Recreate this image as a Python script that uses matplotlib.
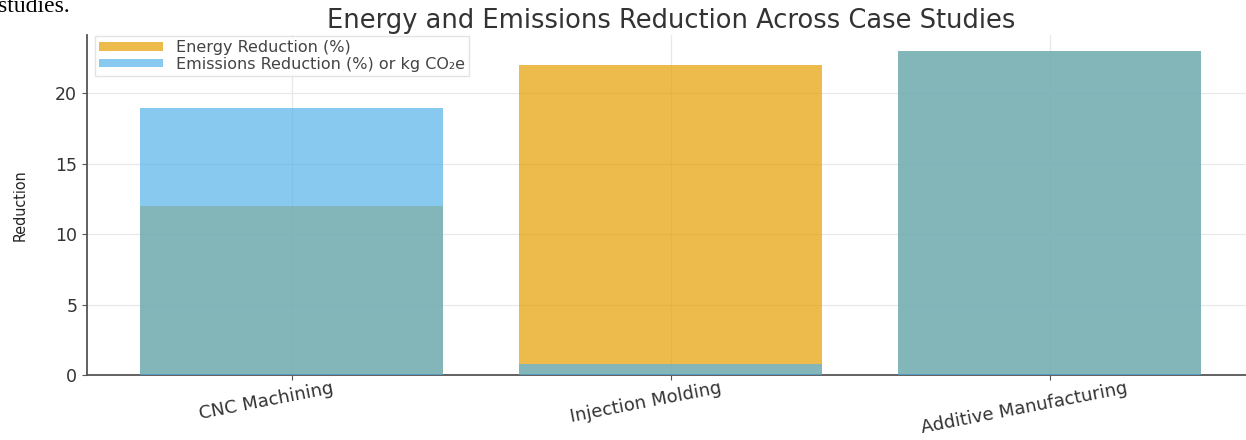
import matplotlib
matplotlib.use("Agg")
import matplotlib.pyplot as plt
import matplotlib.transforms as mtransforms
import numpy as np

# Case study results
cases = ["CNC Machining", "Injection Molding", "Additive Manufacturing"]
energy_reduction = [12, 22, 23]
emissions_reduction = [19, 0.8, 23]

plt.rcParams["font.family"] = ["DejaVu Sans"]

fig = plt.figure(figsize=(12.46, 4.4), dpi=100)
ax = fig.add_axes([0.0698, 0.1477, 0.937, 0.7727])

x = np.arange(len(cases))
ax.bar(x, energy_reduction, width=0.8, color="#E69F00", alpha=0.7,
       label="Energy Reduction (%)", zorder=2)
ax.bar(x, emissions_reduction, width=0.8, color="#56B4E9", alpha=0.7,
       label="Emissions Reduction (%) or kg CO\u2082e", zorder=3)

ax.set_yticks([0, 5, 10, 15, 20])
ax.tick_params(axis="y", labelsize=12.5, colors="#555555", labelcolor="#333333")
ax.tick_params(axis="x", colors="#555555", pad=1)
ax.set_xticks(x)
ax.set_xticklabels(cases, rotation=11, ha="center", fontsize=13, color="#333333")
# nudge the slanted category labels a little to the left
shift = mtransforms.ScaledTranslation(-0.25, 0.02, fig.dpi_scale_trans)
for lbl in ax.get_xticklabels():
    lbl.set_transform(lbl.get_transform() + shift)

ax.set_ylabel("Reduction", family=["Liberation Sans Narrow", "DejaVu Sans"],
              fontstretch="condensed", fontsize=11.5, color="#222222", labelpad=20)
ax.set_title("Energy and Emissions Reduction Across Case Studies",
             fontsize=18.5, color="#333333", pad=5)

ax.grid(True, color="#e8e8e8", linewidth=0.9, zorder=0)
ax.set_axisbelow(True)
for side in ("top", "right"):
    ax.spines[side].set_visible(False)
for side in ("left", "bottom"):
    ax.spines[side].set_color("#555555")
    ax.spines[side].set_linewidth(1.3)

ax.legend(loc="upper left", fontsize=11.5, handlelength=4.0, handleheight=0.45,
          labelspacing=0.1, borderpad=0.25, frameon=True, edgecolor="#dddddd",
          fancybox=False, bbox_to_anchor=(0.0, 1.02), labelcolor="#444444")

# Fragment of the surrounding document text, clipped by the top edge
fig.text(-0.002, 0.972, "studies.", family=["Liberation Serif", "DejaVu Serif"],
         fontsize=17, color="black", va="baseline")

fig.savefig("out.png", dpi=100)
